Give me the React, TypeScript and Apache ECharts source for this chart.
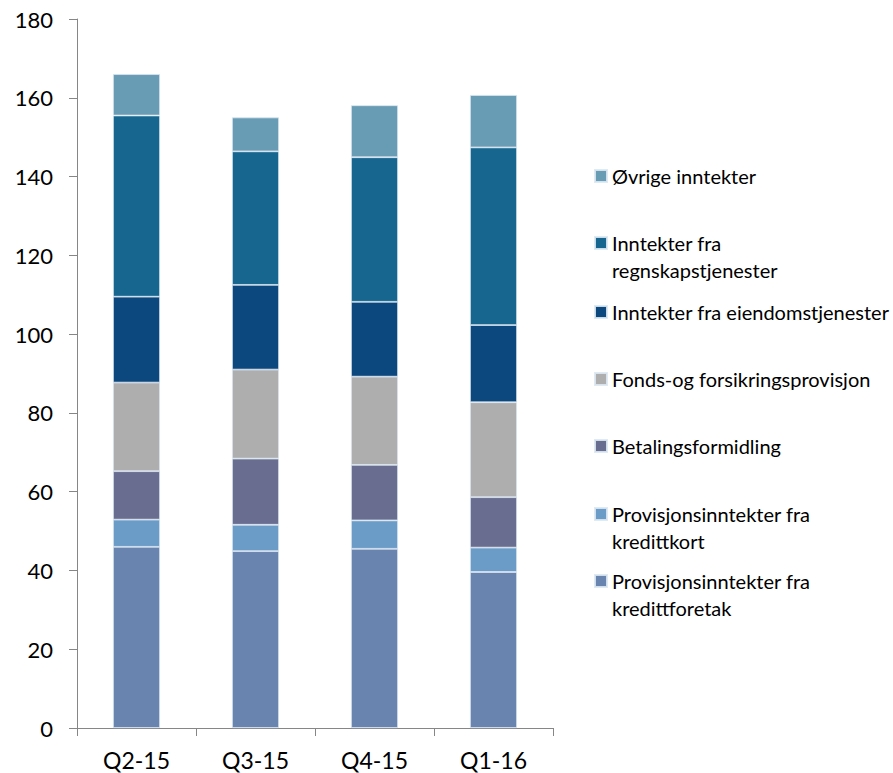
import React, { useEffect, useRef } from "react";
import * as echarts from "echarts";

const categories = ["Q2-15", "Q3-15", "Q4-15", "Q1-16"];
const seriesNames = [
  "Provisjonsinntekter fra kredittforetak",
  "Provisjonsinntekter fra kredittkort",
  "Betalingsformidling",
  "Fonds-og forsikringsprovisjon",
  "Inntekter fra eiendomstjenester",
  "Inntekter fra regnskapstjenester",
  "Øvrige inntekter",
];
const legendLabels = [
  "Provisjonsinntekter fra\nkredittforetak",
  "Provisjonsinntekter fra\nkredittkort",
  "Betalingsformidling",
  "Fonds-og forsikringsprovisjon",
  "Inntekter fra eiendomstjenester",
  "Inntekter fra\nregnskapstjenester",
  "Øvrige inntekter",
];
const kredittforetak = [46.0, 44.9, 45.5, 39.6];
const kredittkort = [6.9, 6.7, 7.2, 6.2];
const betaling = [12.3, 16.8, 14.1, 12.8];
const fonds = [22.5, 22.6, 22.4, 24.1];
const eiendom = [21.8, 21.5, 19.0, 19.6];
const regnskap = [46.0, 33.9, 36.7, 45.1];
const ovrige = [10.5, 8.6, 13.2, 13.3];
const seriesValues = [kredittforetak, kredittkort, betaling, fonds, eiendom, regnskap, ovrige];
const colors = ["#6A84B0", "#6B9BC7", "#696E91", "#AEAEAE", "#0C487D", "#17668F", "#689CB5"];
const legendCenters = [581, 514, 446, 379, 312, 243, 176];

const FONT = "Lato";

export default function App() {
  const ref = useRef<HTMLDivElement>(null);
  useEffect(() => {
    document.body.style.margin = "0";
    const chart = echarts.init(ref.current!, undefined, { renderer: "svg" });
    const LH = 27;
    const legends = seriesNames.map((name, i) => {
      const twoLine = legendLabels[i].includes("\n");
      return {
        show: true,
        orient: "vertical",
        left: 594,
        top: twoLine ? legendCenters[i] - LH * 1.5 : legendCenters[i] - LH / 2,
        padding: 0,
        itemWidth: 12,
        itemHeight: 12,
        itemGap: 0,
        icon: "rect",
        selectedMode: false,
        data: [name],
        formatter: () => (twoLine ? " \n" + legendLabels[i] : legendLabels[i]),
        textStyle: {
          fontFamily: FONT,
          fontSize: 20,
          color: "#000",
          lineHeight: LH,
        },
      };
    });
    chart.setOption({
      animation: false,
      legend: legends,
      grid: { left: 77, right: 340, top: 19, bottom: 45, containLabel: false },
      xAxis: {
        type: "category",
        data: categories,
        axisLine: { lineStyle: { color: "#868686", width: 1 } },
        axisTick: { show: true, length: 8, lineStyle: { color: "#868686" } },
        axisLabel: { fontFamily: FONT, fontSize: 23, color: "#000", margin: 20 },
      },
      yAxis: {
        type: "value",
        min: 0,
        max: 180,
        interval: 20,
        axisLine: { show: true, lineStyle: { color: "#868686", width: 1 } },
        axisTick: { show: true, length: 8, lineStyle: { color: "#868686" } },
        splitLine: { show: false },
        axisLabel: { fontFamily: FONT, fontSize: 22, color: "#000", margin: 24 },
      },
      series: seriesNames.map((name, i) => ({
        name,
        type: "bar",
        stack: "total",
        barWidth: 47,
        data: seriesValues[i],
        itemStyle: {
          color: colors[i],
          borderColor: "rgba(220,232,242,0.9)",
          borderWidth: 0.8,
        },
      })),
      color: colors,
    });
    return () => chart.dispose();
  }, []);
  return <div ref={ref} style={{ width: 893, height: 773 }} />;
}
